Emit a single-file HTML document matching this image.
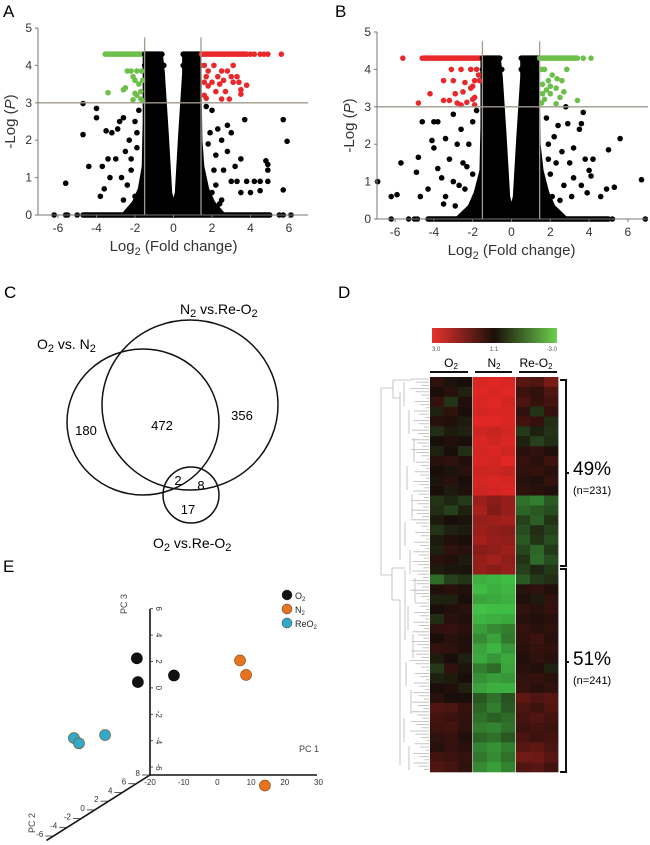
<!DOCTYPE html>
<html><head><meta charset="utf-8"><style>
html,body{margin:0;padding:0;background:#fff;}
svg{display:block;font-family:"Liberation Sans",sans-serif;}
</style></head><body>
<svg id="fig" width="650" height="845" viewBox="0 0 650 845" xmlns="http://www.w3.org/2000/svg">
<g id="pA"></g>
<g id="pB"></g>
<g id="pC">
 <text x="4" y="298" font-size="17">C</text>
 <ellipse cx="143" cy="422" rx="76" ry="73" fill="none" stroke="#111" stroke-width="1.5"/>
 <ellipse cx="190" cy="405" rx="88" ry="85" fill="none" stroke="#111" stroke-width="1.5"/>
 <circle cx="191" cy="495" r="28" fill="none" stroke="#111" stroke-width="1.5"/>
 <text x="180" y="314" font-size="14">N<tspan font-size="11" dy="3">2</tspan><tspan dy="-3"> vs.Re-O</tspan><tspan font-size="11" dy="3">2</tspan></text>
 <text x="37" y="349" font-size="14">O<tspan font-size="11" dy="3">2</tspan><tspan dy="-3"> vs. N</tspan><tspan font-size="11" dy="3">2</tspan></text>
 <text x="153" y="548" font-size="14">O<tspan font-size="11" dy="3">2</tspan><tspan dy="-3"> vs.Re-O</tspan><tspan font-size="11" dy="3">2</tspan></text>
 <text x="86" y="435" font-size="13" text-anchor="middle">180</text>
 <text x="162" y="430" font-size="13" text-anchor="middle">472</text>
 <text x="242" y="420" font-size="13" text-anchor="middle">356</text>
 <text x="178" y="485" font-size="13" text-anchor="middle">2</text>
 <text x="201" y="490" font-size="13" text-anchor="middle">8</text>
 <text x="188" y="514" font-size="13" text-anchor="middle">17</text>
</g>
<g id="pD">
 <text x="338" y="298" font-size="17">D</text>
 <defs><linearGradient id="cb" x1="0" x2="1"><stop offset="0" stop-color="#e8322e"/><stop offset="0.5" stop-color="#1a0f0a"/><stop offset="1" stop-color="#6ccf4c"/></linearGradient></defs>
 <rect x="432" y="328" width="125" height="15" fill="url(#cb)"/>
 <text x="432" y="351" font-size="6" fill="#555">3.0</text>
 <text x="494" y="351" font-size="6" fill="#555" text-anchor="middle">1:1</text>
 <text x="557" y="351" font-size="6" fill="#555" text-anchor="end">-3.0</text>
 <text x="451" y="367" font-size="12" text-anchor="middle">O<tspan font-size="8" dy="2">2</tspan></text>
 <text x="494" y="367" font-size="12" text-anchor="middle">N<tspan font-size="8" dy="2">2</tspan></text>
 <text x="536" y="367" font-size="12" text-anchor="middle">Re-O<tspan font-size="8" dy="2">2</tspan></text>
 <rect x="430" y="371" width="38" height="2" fill="#111"/>
 <rect x="475" y="371" width="37" height="2" fill="#111"/>
 <rect x="519" y="371" width="38" height="2" fill="#111"/>
 <g id="dendro"></g>
 <g id="heat"></g>
 <path d="M560 380 H566 V566 H560 M566 473 H569" fill="none" stroke="#111" stroke-width="2"/>
 <path d="M560 569 H566 V772 H560 M566 662 H569" fill="none" stroke="#111" stroke-width="2"/>
 <text x="573" y="475" font-size="19">49%</text>
 <text x="573" y="494" font-size="11">(n=231)</text>
 <text x="573" y="665" font-size="19">51%</text>
 <text x="573" y="684" font-size="11">(n=241)</text>
</g>
<g id="pE">
 <text x="3" y="572" font-size="17">E</text>
</g>
</svg>
<script>
const NS='http://www.w3.org/2000/svg';
function mk(p,t,a){const e=document.createElementNS(NS,t);for(const k in a)e.setAttribute(k,a[k]);p.appendChild(e);return e;}

// ---------- Volcano data ----------
const aBlackX=[-5.6,-4.7,-4.7,-4.4,-4.0,-4.0,-3.7,-3.6,-3.5,-3.4,-3.3,-3.2,-3.0,-2.9,-2.8,-2.7,-2.6,-2.5,-2.4,-2.3,-2.2,-2.0,-2.0,-1.9,-1.8,-1.7,-3.8,1.7,1.9,2.0,2.2,2.3,2.5,2.6,2.8,2.8,3.0,3.0,3.2,3.3,3.5,3.5,3.7,3.8,4.0,4.2,4.5,4.8,4.9,4.9,4.9,4.5,5.7,5.9,5.7,2.0,2.5,2.2,-6.2,-5.6,-5.5,-5.0,5.5,5.7,6.1,-2.2,-1.9,-2.6,2.1,1.8,2.4];
const aBlackY=[0.85,2.98,2.15,1.3,2.85,2.6,1.3,0.7,2.25,1.5,1.0,2.2,1.5,2.3,2.5,1.0,2.6,1.7,0.8,2.0,1.2,2.5,0.5,1.8,2.8,0.3,0.5,2.9,2.2,2.8,1.6,2.3,2.0,1.2,1.7,2.4,2.2,0.9,1.3,0.9,1.5,0.6,2.55,0.9,0.6,0.9,0.9,1.45,1.35,1.2,0.9,0.65,2.55,1.97,0.67,0.6,0.4,0.8,0,0,0,0,0,0,0,1.5,2.2,0.4,1.2,1.9,0.3];
const aGreenX=[-3.4,-2.4,-2.2,-1.9,-2.1,-2.0,-1.8,-2.5,-2.6,-2.0,-1.9,-2.1,-1.7,-1.6,-1.7,-1.6,-1.65];
const aGreenY=[3.27,3.85,3.85,3.85,3.7,3.6,3.5,3.4,3.35,3.25,3.2,3.08,3.1,3.05,3.3,3.6,3.85];
const aRedX=[1.6,2.1,3.1,1.8,2.5,2.8,1.7,2.3,2.6,3.0,3.3,1.6,2.0,2.4,3.1,3.4,3.8,1.8,2.2,2.7,3.5,1.6,1.7,2.5,2.9,3.5,4.0,4.2,4.5,4.7,4.9,5.6];
const aRedY=[4.0,4.0,4.0,3.85,3.85,3.85,3.7,3.7,3.6,3.7,3.7,3.55,3.55,3.5,3.55,3.55,3.47,3.45,3.3,3.3,3.35,3.2,3.12,3.1,3.1,3.23,4.3,4.3,4.3,4.3,4.3,4.3];
const aBandFrom=[-3.55,-1.5,0.5,1.45,-1.5,0.5,-4.7];
const aBandTo=[-1.55,-0.6,1.4,3.8,-0.5,1.4,5.0];
const aBandY=[4.3,4.3,4.3,4.3,4.0,4.0,0];
const aBandC=['#6cc04a','#000','#000','#e8282a','#000','#000','#000'];
const aCoreX=[-1.55,-0.6,-0.5,-0.3,-0.12,0,0.12,0.3,0.5,0.5,1.4,1.42,1.45,1.55,1.8,2.1,2.6,-2.6,-2.1,-1.8,-1.6,-1.55];
const aCoreY=[4.3,4.3,3.8,2.2,0.6,0.35,0.6,2.2,3.8,4.3,4.3,3.0,2.0,1.3,0.7,0.35,0.05,0.05,0.35,0.7,1.3,2.5];

const bBlackX=[-6.9,-6.2,-5.9,-5.7,-4.8,-4.9,-4.6,-4.7,-4.3,-4.0,-3.8,-4.0,-4.1,-3.8,-3.6,-3.4,-3.4,-3.2,-3.0,-3.0,-2.8,-2.6,-2.5,-2.4,-2.2,-2.0,-2.0,-1.8,-1.9,-3.5,-2.9,1.8,1.9,2.0,2.2,2.3,2.4,2.6,2.8,2.9,2.7,3.0,3.2,3.2,3.5,3.6,3.7,3.6,3.8,4.0,3.9,4.2,4.1,4.9,5.0,5.3,5.6,6.7,2.5,3.1,4.6,-6.2,-5.3,-5.0,-4.85,5.2,6.9,-2.3,-2.7,2.1,1.9];
const bBlackY=[1.0,0.6,0.65,1.5,1.65,1.25,2.6,0.6,0.8,2.6,2.6,1.9,2.1,1.35,1.1,2.15,0.6,1.6,2.8,1.0,2.0,2.4,1.5,0.8,2.0,2.6,1.2,2.9,0.4,0.4,0.35,2.7,2.0,1.2,2.2,1.5,2.5,1.8,3.0,2.55,0.9,1.5,1.9,1.1,2.4,2.55,2.85,0.9,1.6,1.3,0.7,1.6,1.15,0.8,1.85,0.85,2.15,1.05,0.5,0.6,0.6,0,0,0,0,0,0,1.4,0.9,0.6,1.6];
const bRedX=[-3.1,-2.6,-2.1,-1.8,-1.7,-3.5,-3.0,-2.4,-1.9,-1.65,-2.0,-2.1,-4.2,-2.9,-2.5,-3.5,-3.2,-2.8,-2.3,-2.0,-1.9,-4.8,-2.6,-1.9,-5.6,-4.6];
const bRedY=[4.0,4.0,4.0,4.0,3.85,3.7,3.7,3.65,3.7,3.7,3.55,3.5,3.35,3.35,3.4,3.17,3.17,3.1,3.12,3.2,3.25,3.1,3.05,3.05,4.3,4.3];
const bGreenX=[1.55,1.7,2.85,2.1,2.35,1.9,2.6,1.6,2.0,2.3,1.8,2.7,1.6,2.0,2.5,1.7,3.4,1.55,2.3,3.7,4.1];
const bGreenY=[4.0,4.0,4.0,3.85,3.75,3.7,3.7,3.6,3.55,3.5,3.45,3.4,3.35,3.35,3.25,3.2,3.17,3.1,3.08,4.3,4.3];
const bBandFrom=[-4.5,-1.5,0.5,1.45,-1.5,0.5,-4.3];
const bBandTo=[-1.55,-0.6,1.4,3.4,-0.5,1.4,5.0];
const bBandY=[4.3,4.3,4.3,4.3,4.0,4.0,0];
const bBandC=['#e8282a','#000','#000','#6cc04a','#000','#000','#000'];
const bCoreX=[-1.55,-0.6,-0.5,-0.3,-0.12,0,0.12,0.3,0.5,0.5,1.4,1.42,1.45,1.6,1.9,2.2,2.8,-2.8,-2.2,-1.9,-1.6,-1.55];
const bCoreY=[4.3,4.3,3.8,2.2,0.6,0.35,0.6,2.2,3.8,4.3,4.3,3.0,2.0,1.3,0.7,0.35,0.05,0.05,0.35,0.7,1.3,2.5];
const xTicks=[-6,-4,-2,0,2,4,6];
const yTicks=[0,1,2,3,4,5];

function volcano(g,o,d){
  const X=v=>o.x0+v*o.sx, Y=v=>o.y0-v*o.sy;
  const lab=mk(g,'text',{x:o.lx,y:o.ly,'font-size':17});lab.textContent=o.letter;
  
  
  const core=mk(g,'polygon',{points:d.coreX.map((v,i)=>X(v)+','+Y(d.coreY[i])).join(' '),fill:'#000',stroke:'#000','stroke-width':2,'stroke-linejoin':'round'});
  
  
  d.bandFrom.forEach((f,i)=>{
    const l=mk(g,'line',{x1:X(f),x2:X(d.bandTo[i]),y1:Y(d.bandY[i]),y2:Y(d.bandY[i]),stroke:d.bandC[i],'stroke-width':5.5,'stroke-linecap':'round'});
    
    
  });
  const pts=(xs,ys,c,n)=>xs.forEach((v,i)=>{
    const p=mk(g,'circle',{cx:X(v),cy:Y(ys[i]),r:2.8,fill:c});
    
    
  });
  pts(d.blackX,d.blackY,'#000','gene-point');
  pts(d.redX,d.redY,'#e8282a','up-gene-point');
  pts(d.greenX,d.greenY,'#6cc04a','down-gene-point');
  [o.v1,o.v2].forEach(v=>{const l=mk(g,'line',{x1:X(v),x2:X(v),y1:Y(4.75),y2:o.y0,stroke:'#a09a8c','stroke-width':1.3});
    
    });
  const h=mk(g,'line',{x1:o.ax,x2:o.right,y1:Y(3),y2:Y(3),stroke:'#a09a8c','stroke-width':1.3});
  
  
  const ya=mk(g,'line',{x1:o.ax,x2:o.ax,y1:Y(5),y2:o.y0,stroke:'#777','stroke-width':1});
  
  
  const xa=mk(g,'line',{x1:o.ax,x2:o.right,y1:o.y0,y2:o.y0,stroke:'#777','stroke-width':1});
  
  
  yTicks.forEach(t=>{mk(g,'line',{x1:o.ax-3,x2:o.ax,y1:Y(t),y2:Y(t),stroke:'#777'});
    const tx=mk(g,'text',{x:o.ax-6,y:Y(t)+4,'font-size':12,'text-anchor':'end',fill:'#333'});tx.textContent=t;
    
    });
  xTicks.forEach(t=>{mk(g,'line',{x1:X(t),x2:X(t),y1:o.y0,y2:o.y0+3,stroke:'#777'});
    const tx=mk(g,'text',{x:X(t),y:o.y0+17,'font-size':12,'text-anchor':'middle',fill:'#333'});tx.textContent=t;
    
    });
  const yl=mk(g,'text',{x:0,y:0,'font-size':15,'text-anchor':'middle',fill:'#333',transform:`translate(${o.ax-23},${Y(2.5)}) rotate(-90)`});
  yl.innerHTML='-Log (<tspan font-style="italic">P</tspan>)';
  
  
  const xl=mk(g,'text',{x:X(0),y:o.y0+36,'font-size':15,'text-anchor':'middle',fill:'#333'});
  xl.innerHTML='Log<tspan font-size="11" dy="4">2</tspan><tspan dy="-4"> (Fold change)</tspan>';
  
  
}
volcano(document.getElementById('pA'),{x0:173.5,y0:215,sx:19.25,sy:37.4,ax:38,right:308,v1:-1.5,v2:1.43,lx:3,ly:17,letter:'A'},
 {blackX:aBlackX,blackY:aBlackY,redX:aRedX,redY:aRedY,greenX:aGreenX,greenY:aGreenY,bandFrom:aBandFrom,bandTo:aBandTo,bandY:aBandY,bandC:aBandC,coreX:aCoreX,coreY:aCoreY});
volcano(document.getElementById('pB'),{x0:511.5,y0:219,sx:19.4,sy:37.4,ax:377,right:648,v1:-1.5,v2:1.45,lx:335,ly:17,letter:'B'},
 {blackX:bBlackX,blackY:bBlackY,redX:bRedX,redY:bRedY,greenX:bGreenX,greenY:bGreenY,bandFrom:bBandFrom,bandTo:bBandTo,bandY:bBandY,bandC:bBandC,coreX:bCoreX,coreY:bCoreY});

// ---------- Heatmap data ----------
const bandRows=[10,10,10,10,10,10,10,10,10,10,10,10,10,10,10,10,10,10,10,10,10,10,10,10,10,10,10,10,10,10,10,10,10,10,10,10,10,10,10,10];
const o2Vals=[[0.3,-0.1,0],[0,0.2,-0.3],[0.4,-0.6,0.1],[-0.3,0.3,0],[0.2,0.1,-0.2],[-0.5,-0.2,-0.3],[0,0.1,0],[-0.3,0,-0.5],[0.2,0.3,0.1],[0,-0.1,0.2],[-0.1,0.2,0],[0,-0.2,0.1],[-0.6,-0.4,-0.7],[-0.5,-0.8,-0.3],[-0.2,0,-0.1],[-0.6,-0.3,-0.2],[-0.2,0.1,0],[-0.3,0.3,0.2],[0.2,0.1,-0.2],[-0.2,-0.1,-0.1],
 [-1.5,-0.8,-0.6],[0.1,0.2,0.1],[-0.3,-0.3,0],[0,0.1,0.2],[-0.5,0.2,0.1],[0.3,0.4,0.2],[0,0.2,0.1],[0.4,0.3,0.1],[-0.2,0,-0.3],[-0.7,0.3,-0.1],[-0.3,-0.2,0],[0,0.1,-0.3],[0.2,0,0],[0.8,0.7,0.4],[0.6,0.5,0.3],[0.5,0.6,0.3],[0.3,0.4,0.1],[0.2,0.4,0.2],[0.6,0.5,0.4],[0.8,0.6,0.3]];
const n2Vals=[[2.8,2.9,2.8],[2.9,2.8,2.9],[2.8,2.9,2.7],[2.7,2.8,2.8],[2.9,2.9,2.8],[2.6,2.5,2.7],[2.8,2.6,2.8],[2.7,2.8,2.6],[2.8,2.7,2.9],[2.6,2.6,2.5],[2.7,2.8,2.7],[2.6,2.7,2.8],[1.9,1.6,1.8],[2.1,1.5,1.8],[1.8,1.9,2.0],[1.9,1.7,1.6],[2.0,1.8,1.7],[1.6,1.7,1.9],[1.8,2.0,1.7],[1.8,1.6,1.8],
 [-2.6,-2.7,-2.8],[-2.8,-2.6,-2.7],[-2.4,-2.5,-2.6],[-2.9,-2.8,-2.8],[-2.7,-2.6,-2.5],[-2.3,-2.0,-1.8],[-2.0,-2.4,-1.7],[-2.4,-2.7,-2.2],[-2.5,-2.2,-2.5],[-1.8,-1.5,-2.4],[-2.1,-2.3,-2.2],[-2.4,-2.6,-2.6],[-1.2,-1.6,-1.1],[-1.4,-1.8,-1.2],[-1.6,-1.3,-1.5],[-1.8,-1.9,-1.6],[-1.4,-1.6,-1.2],[-1.9,-2.1,-1.8],[-1.7,-2.0,-1.6],[-2.0,-2.3,-1.9]];
const reVals=[[0.9,0.8,1.4],[0.5,0.3,0.8],[0.7,0.4,0.6],[0.3,-0.6,0.4],[0.6,0.4,-0.5],[-0.7,-0.3,-0.6],[-0.3,-0.8,-0.5],[0.2,0.3,0.1],[0.4,0.2,0.5],[0.3,0.4,0.2],[0.2,0.1,0.4],[0.3,0.2,0.1],[-1.6,-1.8,-1.2],[-1.4,-1.2,-1.0],[-0.8,-1.3,-0.6],[-1.0,-0.5,-0.8],[-1.2,-0.6,-1.0],[-0.9,-1.4,-0.7],[-0.6,-1.5,-1.0],[-0.8,-0.4,-0.7],
 [-1.2,-0.7,-0.5],[0.2,0.3,0.1],[0.1,-0.2,0.3],[0.3,0.2,0.4],[0.2,0.1,0.2],[0.4,0.2,0.3],[0.3,0.5,0.2],[0.2,0.4,0.3],[0.1,0.3,0.2],[0.2,0.1,-0.3],[0.3,0.4,0.2],[0.4,0.2,0.3],[1.0,0.8,0.9],[0.7,0.5,0.8],[0.6,0.8,0.6],[0.5,0.6,0.5],[0.7,0.5,0.6],[0.9,1.0,0.7],[1.3,1.2,0.9],[0.8,0.9,0.6]];
function heatColor(v){
  const t=Math.min(1,Math.abs(v)/3);
  if(v>=0) return `rgb(${Math.round(26+t*206)},${Math.round(14+t*26)},${Math.round(10+t*26)})`;
  return `rgb(${Math.round(26+t*40)},${Math.round(14+t*186)},${Math.round(10+t*62)})`;
}
(function(){
  const g=document.getElementById('heat');
  const colX=[430,444,458,473,487,501,516,530,544], cw=14.4;
  const top=377, total=bandRows.reduce((a,b)=>a+b,0), scale=(772-top)/total;
  let y=top;
  bandRows.forEach((h,i)=>{
    const vals=[...o2Vals[i],...n2Vals[i],...reVals[i]];
    vals.forEach((v,j)=>{
      const r=mk(g,'rect',{x:colX[j],y:y,width:cw,height:h*scale+0.3,fill:heatColor(v)});
      
      
    });
    y+=h*scale;
  });
  const d=document.getElementById('dendro');
  const st={stroke:'#b8b8b8','stroke-width':0.8,fill:'none'};
  mk(d,'path',Object.assign({d:'M381 388 V575 M381 388 H393 M381 575 H392 M393 380 V398 M393 380 H412 M393 398 H400 M400 392 V560 M392 568 V600 M392 600 H400 M400 600 V765 M392 568 H405 M405 570 V640'},st));
  for(let yy=379; yy<772; yy+=3.2){
    const x0=410+((yy*7)%17);
    mk(d,'line',Object.assign({x1:x0,x2:429,y1:yy,y2:yy},st));
  }
  for(let k=0;k<14;k++){
    const yy=382+k*28, x0=404+((k*5)%12);
    mk(d,'line',Object.assign({x1:x0,x2:x0,y1:yy,y2:yy+24},st));
  }
})();

// ---------- PCA data ----------
const pcGroups=['O2','N2','ReO2'];
const pcColors=['#111','#e8731f','#33a9c9'];
const pcGroup=[0,0,0,1,1,1,2,2,2];
const pc1=[-19.8,-19.5,-8.8,14.9,16.7,14.1,-22.1,-20.6,-14.9];
const pc2=[6,6,6,4,4,8,-2,-2,-1];
const pc3=[2.9,1.1,1.6,3.4,2.3,-7.4,-0.5,-0.9,-0.6];
const pc1Ticks=[-20,-10,0,10,20,30];
const pc3Ticks=[6,4,2,0,-2,-4,-6];
const pc2Ticks=[8,6,4,2,0,-2,-4,-6];
(function(){
  const g=document.getElementById('pE');
  const ox=150, oy=775;
  const PX=(a,b,c)=>ox+(a+20)*3.37+(b-8)*6.9;
  const PY=(a,b,c)=>oy-(c+6.6)*13.2-(b-8)*4.36;
  const st={stroke:'#111','stroke-width':1.6};
  const a1=mk(g,'line',Object.assign({x1:ox,y1:oy,x2:317,y2:oy},st));
  
  
  const a3=mk(g,'line',Object.assign({x1:ox,y1:oy,x2:ox,y2:609},st));
  
  
  const a2=mk(g,'line',Object.assign({x1:ox,y1:oy,x2:PX(-20,-7,-6.6),y2:PY(-20,-7,-6.6)},st));
  
  
  pc1Ticks.forEach(t=>{const x=PX(t,8,-6.6);
    const tx=mk(g,'text',{x:x,y:oy+10,'font-size':8,'text-anchor':'middle',fill:'#333'});tx.textContent=t;
    
    });
  pc3Ticks.forEach(t=>{const y=PY(-20,8,t);
    mk(g,'line',{x1:ox,x2:ox+3,y1:y,y2:y,stroke:'#333','stroke-width':0.8});
    const tx=mk(g,'text',{x:0,y:0,'font-size':8,'text-anchor':'middle',fill:'#333',transform:`translate(${ox+6},${y}) rotate(90)`});tx.textContent=t;
    
    });
  pc2Ticks.forEach(t=>{const x=PX(-20,t,-6.6), y=PY(-20,t,-6.6);
    mk(g,'line',{x1:x-8,x2:x,y1:y,y2:y,stroke:'#333','stroke-width':0.8});
    const tx=mk(g,'text',{x:x-10,y:y+1,'font-size':8,'text-anchor':'end',fill:'#333'});tx.textContent=t;
    
    });
  const t1=mk(g,'text',{x:299,y:752,'font-size':9,fill:'#444'});t1.textContent='PC 1';
  
  
  const t3=mk(g,'text',{x:0,y:0,'font-size':9,fill:'#444',transform:'translate(127,614) rotate(-90)'});t3.textContent='PC 3';
  
  
  const t2=mk(g,'text',{x:0,y:0,'font-size':9,fill:'#444',transform:'translate(35,833) rotate(-90)'});t2.textContent='PC 2';
  
  
  pc1.forEach((v,i)=>{
    const c=mk(g,'circle',{cx:PX(v,pc2[i],pc3[i]),cy:PY(v,pc2[i],pc3[i]),r:5.5,fill:pcColors[pcGroup[i]],stroke:pcGroup[i]?'#7a4a20':'#000','stroke-width':0.6});
    
    
  });
  const lbl=['O<tspan font-size="6" dy="2">2</tspan>','N<tspan font-size="6" dy="2">2</tspan>','ReO<tspan font-size="6" dy="2">2</tspan>'];
  pcGroups.forEach((gname,i)=>{
    const c=mk(g,'circle',{cx:287,cy:595+i*14,r:5,fill:pcColors[i],stroke:'#333','stroke-width':0.5});
    
    
    const t=mk(g,'text',{x:295,y:599+i*14,'font-size':9,fill:'#222'});t.innerHTML=lbl[i];
    
    
  });
})();
</script>
</body></html>
